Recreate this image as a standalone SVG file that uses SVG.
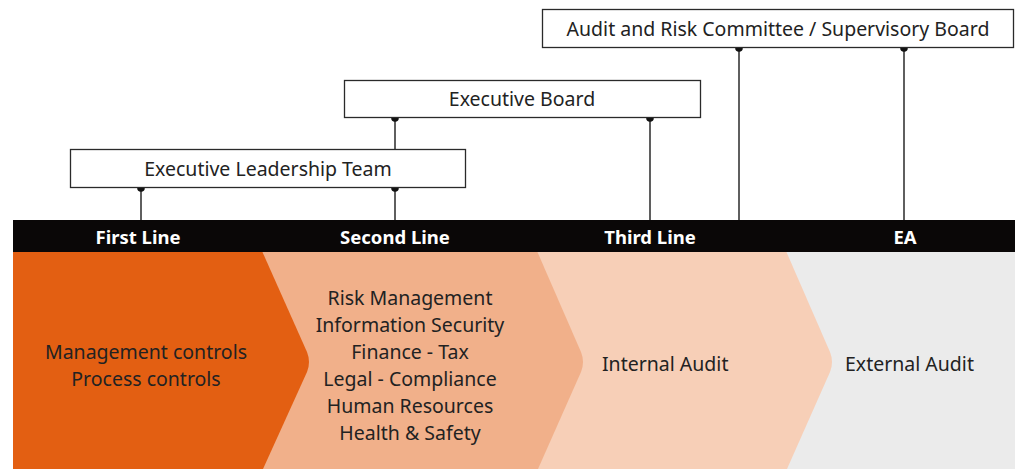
<svg xmlns="http://www.w3.org/2000/svg" width="1015" height="469" viewBox="0 0 1015 469">
<style>
.box{fill:#fff;stroke:#2a2a2a;stroke-width:1.3}
.bt{font-family:"Noto Sans","Liberation Sans",sans-serif;font-size:19.5px;fill:#222;text-anchor:middle}
.hd{font-family:"Noto Sans","Liberation Sans",sans-serif;font-size:18.5px;font-weight:bold;fill:#fff;text-anchor:middle}
.tx{font-family:"Noto Sans","Liberation Sans",sans-serif;font-size:19.5px;fill:#222}
.ln{stroke:#2a2a2a;stroke-width:1.5;fill:none}
.dot{fill:#111}
</style>
<rect width="1015" height="469" fill="#fff"/>
<g id="bands">
<rect x="13" y="251" width="1002" height="218" fill="#ebebeb"/>
<path d="M13,251 L786,251 L830,352 Q834,362 830,372 L787,469 L13,469 Z" fill="#f7cfb7"/>
<path d="M13,251 L537,251 L581,352 Q585,362 581,372 L538,469 L13,469 Z" fill="#f1b08a"/>
<path d="M13,251 L262,251 L307,352 Q311,362 307,372 L263,469 L13,469 Z" fill="#e35f12"/>
</g>
<g id="header">
<rect x="13" y="220" width="1002" height="32" fill="#0a0707"/>
<text class="hd" x="138" y="243.5">First Line</text>
<text class="hd" x="395" y="243.5">Second Line</text>
<text class="hd" x="650" y="243.5">Third Line</text>
<text class="hd" x="905" y="243.5">EA</text>
</g>
<g id="connectors">
<line class="ln" x1="141" y1="188" x2="141" y2="220"/>
<line class="ln" x1="395" y1="188" x2="395" y2="220"/>
<line class="ln" x1="395" y1="118" x2="395" y2="149"/>
<line class="ln" x1="650" y1="118" x2="650" y2="220"/>
<line class="ln" x1="739" y1="48" x2="739" y2="220"/>
<line class="ln" x1="904" y1="48" x2="904" y2="220"/>
<circle class="dot" cx="141" cy="188" r="3.8"/>
<circle class="dot" cx="395" cy="188" r="3.8"/>
<circle class="dot" cx="395" cy="118" r="3.8"/>
<circle class="dot" cx="650" cy="118" r="3.8"/>
<circle class="dot" cx="739" cy="48" r="3.8"/>
<circle class="dot" cx="904" cy="48" r="3.8"/>
</g>
<g id="elt">
<rect class="box" x="70.5" y="149.5" width="395" height="38"/>
<text class="bt" x="268" y="175.5">Executive Leadership Team</text>
</g>
<g id="eb">
<rect class="box" x="344.5" y="80.5" width="356" height="37"/>
<text class="bt" x="522" y="105.5">Executive Board</text>
</g>
<g id="arc">
<rect class="box" x="542.5" y="9.5" width="471" height="38"/>
<text class="bt" x="778" y="35.5">Audit and Risk Committee / Supervisory Board</text>
</g>
<g id="first">
<text class="bt" x="146" y="358.5">Management controls</text>
<text class="bt" x="146" y="385.5">Process controls</text>
</g>
<g id="second">
<text class="bt" x="410" y="304.5">Risk Management</text>
<text class="bt" x="410" y="331.5">Information Security</text>
<text class="bt" x="410" y="358.5">Finance - Tax</text>
<text class="bt" x="410" y="385.5">Legal - Compliance</text>
<text class="bt" x="410" y="412.5">Human Resources</text>
<text class="bt" x="410" y="439.5">Health &amp; Safety</text>
</g>
<g id="third">
<text class="tx" x="602" y="370.5">Internal Audit</text>
</g>
<g id="ea">
<text class="tx" x="845" y="370.5">External Audit</text>
</g>
</svg>
